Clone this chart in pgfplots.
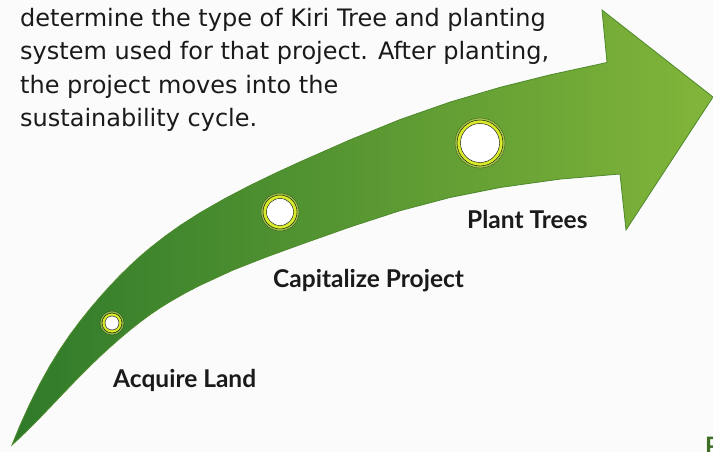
\documentclass[border=0pt]{standalone}
\usepackage{pgfplots}
\pgfplotsset{compat=1.18}
\usepackage{fontspec}
\setmainfont{DejaVu Sans}
\newfontfamily\bodyfont{DejaVu Sans}
\newfontfamily\labfont{Lato}
\definecolor{bg}{HTML}{FBFBFB}
\definecolor{gdark}{HTML}{2F7A2A}
\definecolor{gmid}{HTML}{6AA733}
\definecolor{glight}{HTML}{82B53A}
\definecolor{gline}{HTML}{4E8A2C}
\definecolor{ring}{HTML}{D8EA2C}
\definecolor{glow}{HTML}{E2EF6A}
\definecolor{txt}{HTML}{1A1A1A}
\begin{document}
\begin{tikzpicture}
\begin{axis}[scale only axis, width=713bp, height=452bp,
  xmin=0, xmax=713, ymin=0, ymax=452, y dir=reverse, hide axis, clip=true]
% background
\addplot[fill=bg, draw=none] coordinates {(0,0) (713,0) (713,452) (0,452)} -- cycle;
% arrow
\addplot[draw=gline, line width=0.8bp, left color=gdark, middle color=gmid, right color=glight]
coordinates {
(12,445) (20,425.4) (30,403.4) (40,383.6) (50,365.6) (60,349.4) (70,334.7) (80,321.3)
(90,308.8) (100,297.1) (110,286) (120,275.5) (130,265.7) (140,256.5) (150,248)
(165,236.3) (180,225.6) (200,212.8) (225,198.5) (250,185.5) (275,173.4) (300,161.9)
(350,139.9) (400,119.6) (450,102.1) (500,87.4) (550,74.9)
(607,62.5) (602,10) (713,97) (626,230) (620,174)
(560,179.1) (500,187.5) (450,197.5) (400,210.7) (350,227) (300,244.7) (265,257.5)
(233,270.1) (200,285.3) (185,293.1) (170,301.7) (160,307.9) (150,314.7) (140,322.1)
(130,330) (120,338.4) (110,347.2) (100,356.4) (90,366) (80,376) (70,386.3) (60,396.8)
(50,407.3) (40,417.7) (30,427.8) (20,437.6)
} -- cycle;
% circles: glow, ring, core
\addplot[only marks, mark=*, mark size=12bp, mark options={draw=none, fill=glow, opacity=0.5}] coordinates {(112,323)};
\addplot[only marks, mark=*, mark size=10bp, mark options={draw=none, fill=ring}] coordinates {(112,323)};
\addplot[only marks, mark=*, mark size=7bp, mark options={draw=none, fill=white}] coordinates {(112,323)};
\addplot[only marks, mark=*, mark size=19bp, mark options={draw=none, fill=glow, opacity=0.5}] coordinates {(280,212)};
\addplot[only marks, mark=*, mark size=17bp, mark options={draw=none, fill=ring}] coordinates {(280,212)};
\addplot[only marks, mark=*, mark size=13.5bp, mark options={draw=none, fill=white}] coordinates {(280,212)};
\addplot[only marks, mark=*, mark size=25bp, mark options={draw=none, fill=glow, opacity=0.5}] coordinates {(480,143)};
\addplot[only marks, mark=*, mark size=23bp, mark options={draw=none, fill=ring}] coordinates {(480,143)};
\addplot[only marks, mark=*, mark size=19.5bp, mark options={draw=none, fill=white}] coordinates {(480,143)};
% text paragraph
\begin{scope}[every node/.style={anchor=base west, inner sep=0pt, text=txt, font=\bodyfont\fontsize{24bp}{28bp}\selectfont}]
\node at (axis cs:20,27) {determine the type of Kiri Tree and planting};
\node at (axis cs:20,60) {system used for that project. After planting,};
\node at (axis cs:20,93) {the project moves into the};
\node at (axis cs:20,126) {sustainability cycle.};
\end{scope}
\begin{scope}[every node/.style={anchor=base west, inner sep=0pt, text=txt, font=\labfont\bfseries\fontsize{24.5bp}{28bp}\selectfont}]
\node at (axis cs:113,387) {Acquire Land};
\node at (axis cs:273,287) {Capitalize Project};
\node at (axis cs:467,228) {Plant Trees};
\end{scope}
\node[anchor=north west, inner sep=0pt, text=gline!80!black, font=\labfont\bfseries\fontsize{24bp}{28bp}\selectfont] at (axis cs:705,437) {P};
\end{axis}
\pgfresetboundingbox
\useasboundingbox (current axis.south west) rectangle (current axis.north east);
\end{tikzpicture}
\end{document}
